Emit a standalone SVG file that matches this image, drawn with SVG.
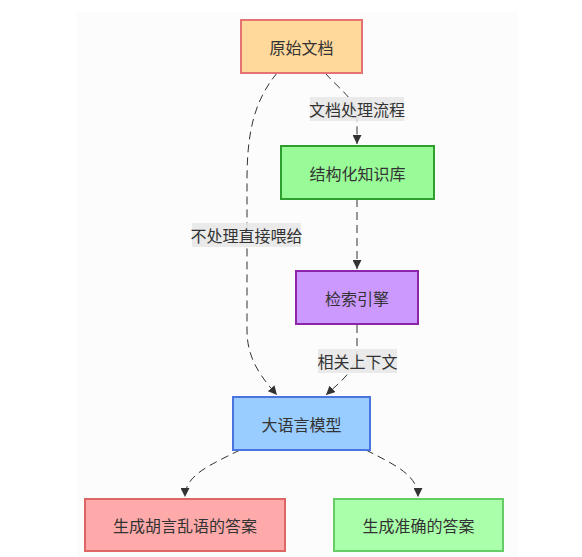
<svg xmlns="http://www.w3.org/2000/svg" width="582" height="557" viewBox="0 0 582 557">
<style>
.node rect{stroke-width:2}
.node text,.lbl text{font-family:"Noto Sans CJK SC","Noto Sans",sans-serif;font-size:16px;fill:#333;text-anchor:middle;dominant-baseline:central}
.edge{fill:none;stroke:#333;stroke-width:1;stroke-dasharray:8 5}
.lbl rect{fill:#e8e8e8;opacity:0.9}
</style>
<defs>
<marker id="arr" viewBox="0 0 10 10" refX="10" refY="5" markerWidth="9" markerHeight="9" markerUnits="userSpaceOnUse" orient="auto">
<path d="M0,0 L10,5 L0,10 z" fill="#333"/>
</marker>
</defs>
<rect x="0" y="0" width="582" height="557" fill="#ffffff"/>
<rect x="77" y="12" width="441" height="545" fill="#fcfcfc"/>
<g id="connectors">
<path class="edge" d="M325,73 C340,90 357,100 357,118 L357,144" marker-end="url(#arr)"/>
<path class="edge" d="M277,73 C255,100 247,130 247,180 L247,330 C247,360 262,378 277,395" marker-end="url(#arr)"/>
<path class="edge" d="M357,199 L357,269" marker-end="url(#arr)"/>
<path class="edge" d="M357,325 L357,350 C357,370 340,382 326,395" marker-end="url(#arr)"/>
<path class="edge" d="M240,450 C210,465 185,475 185,497" marker-end="url(#arr)"/>
<path class="edge" d="M366,450 C395,465 418,475 418,497" marker-end="url(#arr)"/>
<g class="lbl" id="label-process"><rect x="310" y="97" width="94" height="24"/><text x="357" y="109">文档处理流程</text></g>
<g class="lbl" id="label-direct"><rect x="192" y="223" width="109" height="24"/><text x="246.5" y="235">不处理直接喂给</text></g>
<g class="lbl" id="label-context"><rect x="318" y="349" width="79" height="24"/><text x="357.5" y="361">相关上下文</text></g>
</g>
<g class="node" id="raw-doc"><rect x="241" y="20" width="121" height="53" fill="#ffd89b" stroke="#e57373"/><text x="301.5" y="46.5">原始文档</text></g>
<g class="node" id="kb"><rect x="281" y="146" width="153" height="53" fill="#98fb98" stroke="#2e9e2e"/><text x="357.5" y="172.5">结构化知识库</text></g>
<g class="node" id="search"><rect x="296" y="271" width="122" height="53" fill="#cc99ff" stroke="#8e24aa"/><text x="357" y="297.5">检索引擎</text></g>
<g class="node" id="llm"><rect x="233" y="397" width="137" height="53" fill="#99ccff" stroke="#4a74e0"/><text x="301.5" y="423.5">大语言模型</text></g>
<g class="node" id="bad"><rect x="85" y="499" width="200" height="52" fill="#ffaaaa" stroke="#e06666"/><text x="185" y="525">生成胡言乱语的答案</text></g>
<g class="node" id="good"><rect x="334" y="499" width="169" height="52" fill="#aaffaa" stroke="#66cc66"/><text x="418.5" y="525">生成准确的答案</text></g>
</svg>
